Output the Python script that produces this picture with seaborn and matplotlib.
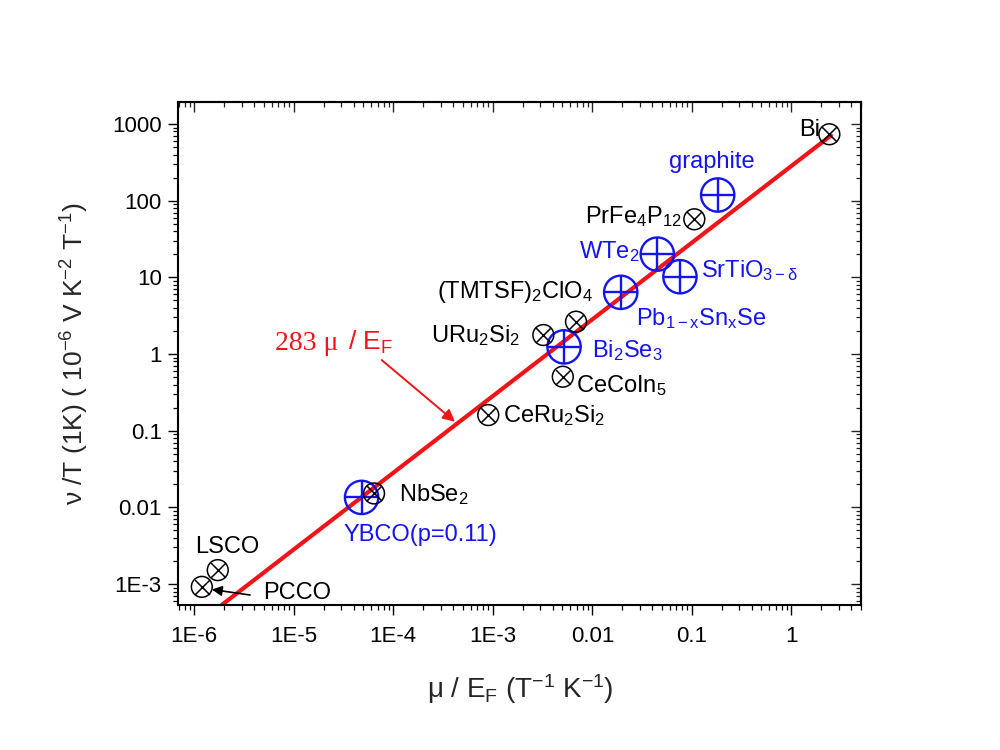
import numpy as np
import matplotlib
matplotlib.use("Agg")
import matplotlib.pyplot as plt
from matplotlib.ticker import LogLocator, NullFormatter
import seaborn as sns

# ---------------- data ----------------
black_labels = ["Bi", r"PrFe$_4$P$_{12}$", r"(TMTSF)$_2$ClO$_4$", r"URu$_2$Si$_2$",
                r"CeCoIn$_5$", r"CeRu$_2$Si$_2$", r"NbSe$_2$", "LSCO", "PCCO"]
black_x = [2.41, 0.106, 6.86e-3, 3.22e-3, 5.05e-3, 9.0e-4, 6.4e-5, 1.72e-6, 1.19e-6]
black_y = [735, 57.2, 2.64, 1.77, 0.506, 0.160, 0.0152, 1.52e-3, 9.2e-4]

blue_labels = ["graphite", r"WTe$_2$", r"SrTiO$_{3−δ}$", r"Pb$_{1-x}$Sn$_x$Se",
               r"Bi$_2$Se$_3$", "YBCO(p=0.11)"]
blue_x = [0.182, 0.045, 0.076, 0.0193, 5.2e-3, 4.8e-5]
blue_y = [118.6, 20.1, 10.2, 6.38, 1.24, 0.0135]

fit_x = [1.0e-6, 2.5]
fit_y = [2.83e-4, 707.5]

x_ticks = [1e-6, 1e-5, 1e-4, 1e-3, 1e-2, 1e-1, 1]
x_tick_labels = ["1E-6", "1E-5", "1E-4", "1E-3", "0.01", "0.1", "1"]
y_ticks = [1e-3, 1e-2, 1e-1, 1, 10, 100, 1000]
y_tick_labels = ["1E-3", "0.01", "0.1", "1", "10", "100", "1000"]

# ---------------- layout (label offsets in points: ha, dx, dy) ----------------
black_offsets = {
    "Bi": ("right", -6.5, -1.2),
    r"PrFe$_4$P$_{12}$": ("right", -9, -2.9),
    r"(TMTSF)$_2$ClO$_4$": ("right", 12.5, 16.8),
    r"URu$_2$Si$_2$": ("right", -16.8, -4.8),
    r"CeCoIn$_5$": ("left", 9.6, -10.8),
    r"CeRu$_2$Si$_2$": ("left", 10.8, -4.8),
    r"NbSe$_2$": ("left", 18.2, -5.3),
    "LSCO": ("left", -16.3, 12.5),
    "PCCO": ("left", 43.9, -9.1),
}
blue_offsets = {
    "graphite": ("center", -4, 19.2),
    r"WTe$_2$": ("right", -12.5, -3.1),
    r"SrTiO$_{3−δ}$": ("left", 14.9, 0),
    r"Pb$_{1-x}$Sn$_x$Se": ("left", 11, -23.5),
    r"Bi$_2$Se$_3$": ("left", 19.9, -7.2),
    "YBCO(p=0.11)": ("left", -13.2, -31.2),
}

BLUE = "#1414f0"
RED = "#f01418"

sns.set_style("ticks")
plt.rcParams["font.family"] = ["Liberation Sans", "DejaVu Sans"]
plt.rcParams["mathtext.fontset"] = "custom"
plt.rcParams["mathtext.rm"] = "Liberation Sans"
plt.rcParams["mathtext.it"] = "Liberation Sans:italic"
plt.rcParams["mathtext.bf"] = "Liberation Sans:bold"
plt.rcParams["mathtext.default"] = "regular"

fig = plt.figure(figsize=(10, 7.5), dpi=100)
ax = fig.add_axes([0.1783, 0.1933, 0.683, 0.6703])
ax.set_xscale("log")
ax.set_yscale("log")
ax.set_xlim(6.905e-7, 5.05)
ax.set_ylim(5.33e-4, 1919)

# fit line
sns.lineplot(x=fit_x, y=fit_y, color=RED, linewidth=3.0, ax=ax, zorder=2)

# blue markers (circle with +)
sns.scatterplot(x=blue_x, y=blue_y, ax=ax, marker="o", s=24**2, facecolor="none",
                edgecolor=BLUE, linewidth=1.7, zorder=3, legend=False)
sns.scatterplot(x=blue_x, y=blue_y, ax=ax, marker="+", s=24**2, color=BLUE,
                linewidth=1.7, zorder=3, legend=False)
# black markers (circle with x)
sns.scatterplot(x=black_x, y=black_y, ax=ax, marker="o", s=15**2, facecolor="none",
                edgecolor="black", linewidth=1.1, zorder=4, legend=False)
sns.scatterplot(x=black_x, y=black_y, ax=ax, marker="x", s=10.6**2, color="black",
                linewidth=1.1, zorder=4, legend=False)

for lab, xv, yv in zip(black_labels, black_x, black_y):
    ha, dx, dy = black_offsets[lab]
    ax.annotate(lab, xy=(xv, yv), xytext=(dx, dy), textcoords="offset points",
                ha=ha, va="baseline", fontsize=17, color="black")
for lab, xv, yv in zip(blue_labels, blue_x, blue_y):
    ha, dx, dy = blue_offsets[lab]
    ax.annotate(lab, xy=(xv, yv), xytext=(dx, dy), textcoords="offset points",
                ha=ha, va="baseline", fontsize=17, color=BLUE)

# fit label and arrow
ax.text(6.47e-6, 1.128, "283 μ", fontsize=20, color=RED, family="Liberation Serif",
        ha="left", va="baseline")
ax.text(3.5e-5, 1.128, "/ E$_F$", fontsize=19, color=RED, ha="left", va="baseline")
ax.annotate("", xy=(4.17e-4, 0.131), xytext=(7.64e-5, 0.835),
            arrowprops=dict(arrowstyle="-|>", color=RED, lw=1.4, mutation_scale=18,
                            shrinkA=0, shrinkB=0))
# PCCO arrow
ax.annotate("", xy=(1.50e-6, 8.5e-4), xytext=(3.63e-6, 7.2e-4),
            arrowprops=dict(arrowstyle="-|>", color="black", lw=1.2, mutation_scale=15,
                            shrinkA=0, shrinkB=0))

# ticks
ax.set_xticks(x_ticks, x_tick_labels)
ax.set_yticks(y_ticks, y_tick_labels)
for axis in (ax.xaxis, ax.yaxis):
    axis.set_minor_locator(LogLocator(base=10, subs=np.arange(2, 10), numticks=100))
    axis.set_minor_formatter(NullFormatter())
ax.tick_params(which="both", direction="out", top=False, right=False, labelsize=16,
               color="black", labelcolor="black")
ax.tick_params(which="major", length=7, width=1.0)
ax.tick_params(which="minor", length=3.6, width=0.9)
ax.tick_params(axis="x", pad=8)
ax.tick_params(axis="y", pad=5)
for sp in ax.spines.values():
    sp.set_linewidth(1.5)
    sp.set_color("black")
    sp.set_visible(True)

secx = ax.secondary_xaxis("top")
secx.set_xticks(x_ticks)
secx.xaxis.set_minor_locator(LogLocator(base=10, subs=np.arange(2, 10), numticks=100))
secx.xaxis.set_minor_formatter(NullFormatter())
secx.tick_params(which="both", direction="in", labeltop=False, labelbottom=False)
secx.tick_params(which="major", length=7, width=1.0)
secx.tick_params(which="minor", length=3.6, width=0.9)
secy = ax.secondary_yaxis("right")
secy.set_yticks(y_ticks)
secy.yaxis.set_minor_locator(LogLocator(base=10, subs=np.arange(2, 10), numticks=100))
secy.yaxis.set_minor_formatter(NullFormatter())
secy.tick_params(which="both", direction="in", labelright=False, labelleft=False)
secy.tick_params(which="major", length=7, width=1.0)
secy.tick_params(which="minor", length=3.6, width=0.9)
for s in (secx, secy):
    for sp in s.spines.values():
        sp.set_linewidth(1.5)

ax.set_xlabel("μ / E$_F$ (T$^{-1}$ K$^{-1}$)", fontsize=20)
ax.xaxis.set_label_coords(0.5, -0.134)
ax.set_ylabel("ν /T (1K) ( 10$^{-6}$ V K$^{-2}$ T$^{-1}$)", fontsize=19)
ax.yaxis.set_label_coords(-0.128, 0.5)

fig.savefig("out.png", dpi=100)
